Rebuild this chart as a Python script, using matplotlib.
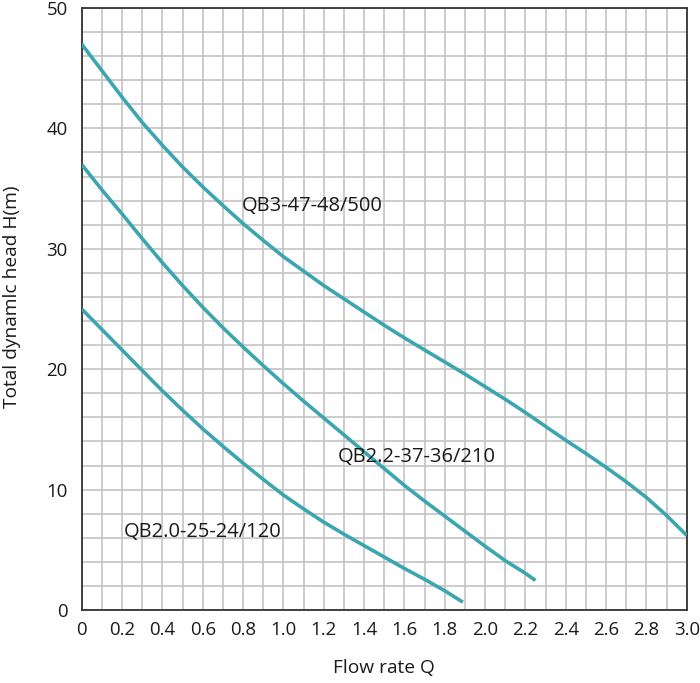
import matplotlib
matplotlib.use("Agg")
from matplotlib import pyplot as plt
from matplotlib.ticker import MultipleLocator

plt.rcParams['font.family'] = ['Open Sans', 'DejaVu Sans']

# curve data (flow Q, head H)
q_500 = [0, 0.1, 0.2, 0.3, 0.4, 0.5, 0.6, 0.7, 0.8, 0.9, 1.0, 1.1, 1.2, 1.3, 1.4, 1.5,
         1.6, 1.7, 1.8, 1.9, 2.0, 2.1, 2.2, 2.3, 2.4, 2.5, 2.6, 2.7, 2.8, 2.9, 3.0]
h_500 = [47.0, 44.8, 42.6, 40.5, 38.6, 36.8, 35.15, 33.6, 32.1, 30.7, 29.35, 28.15, 26.95,
         25.85, 24.75, 23.65, 22.6, 21.6, 20.6, 19.6, 18.55, 17.5, 16.4, 15.25, 14.1,
         13.0, 11.85, 10.65, 9.35, 7.85, 6.2]

q_210 = [0, 0.1, 0.2, 0.3, 0.4, 0.5, 0.6, 0.7, 0.8, 0.9, 1.0, 1.1, 1.2, 1.3, 1.4, 1.5,
         1.6, 1.7, 1.8, 1.9, 2.0, 2.1, 2.2, 2.25]
h_210 = [37.0, 34.9, 32.9, 30.85, 28.85, 26.95, 25.15, 23.45, 21.85, 20.3, 18.8, 17.35,
         15.95, 14.55, 13.15, 11.75, 10.35, 9.05, 7.8, 6.55, 5.3, 4.1, 3.05, 2.45]

q_120 = [0, 0.1, 0.2, 0.3, 0.4, 0.5, 0.6, 0.7, 0.8, 0.9, 1.0, 1.1, 1.2, 1.3, 1.4, 1.5,
         1.6, 1.7, 1.8, 1.89]
h_120 = [25.0, 23.3, 21.6, 19.9, 18.2, 16.6, 15.05, 13.6, 12.2, 10.85, 9.55, 8.4, 7.3,
         6.3, 5.35, 4.4, 3.45, 2.55, 1.6, 0.65]

curves = [
    ('QB3-47-48/500', q_500, h_500, (0.795, 33.1)),
    ('QB2.2-37-36/210', q_210, h_210, (1.268, 12.3)),
    ('QB2.0-25-24/120', q_120, h_120, (0.21, 6.05)),
]

x_ticks = [0, 0.2, 0.4, 0.6, 0.8, 1.0, 1.2, 1.4, 1.6, 1.8, 2.0, 2.2, 2.4, 2.6, 2.8, 3.0]
x_labels = ['0', '0.2', '0.4', '0.6', '0.8', '1.0', '1.2', '1.4', '1.6', '1.8',
            '2.0', '2.2', '2.4', '2.6', '2.8', '3.0']
y_ticks = [0, 10, 20, 30, 40, 50]

line_color = '#3ba6b0'
text_color = '#1a1a1a'

fig = plt.figure(figsize=(7, 6.83), dpi=100)
ax = fig.add_axes([0.1167, 0.1069, 0.8643, 0.8814])

for name, q, h, pos in curves:
    ax.plot(q, h, color=line_color, linewidth=2.6, solid_capstyle='butt',
            solid_joinstyle='round', zorder=3)
    ax.text(pos[0], pos[1], name, fontsize=14.5, color=text_color, va='baseline',
            ha='left', zorder=4)

ax.set_xlim(0, 3.0)
ax.set_ylim(0, 50)
ax.set_xticks(x_ticks)
ax.set_xticklabels(x_labels)
ax.set_yticks(y_ticks)
ax.xaxis.set_minor_locator(MultipleLocator(0.1))
ax.yaxis.set_minor_locator(MultipleLocator(2))
ax.grid(which='both', color='#c4c4c4', linewidth=1.2, zorder=1)
ax.set_axisbelow(True)
ax.tick_params(which='both', length=0)
ax.tick_params(axis='x', pad=8, labelsize=13.4, labelcolor=text_color)
ax.tick_params(axis='y', pad=10, labelsize=13.4, labelcolor=text_color)

for sp in ax.spines.values():
    sp.set_color('#333333')
    sp.set_linewidth(1.3)

ax.set_xlabel('Flow rate Q', fontsize=13.8, labelpad=14, color=text_color)
ax.set_ylabel('Total dynamlc head H(m)', fontsize=13.8, color=text_color)
ax.yaxis.set_label_coords(-0.100, 0.52)

fig.savefig('out.png', dpi=100)
